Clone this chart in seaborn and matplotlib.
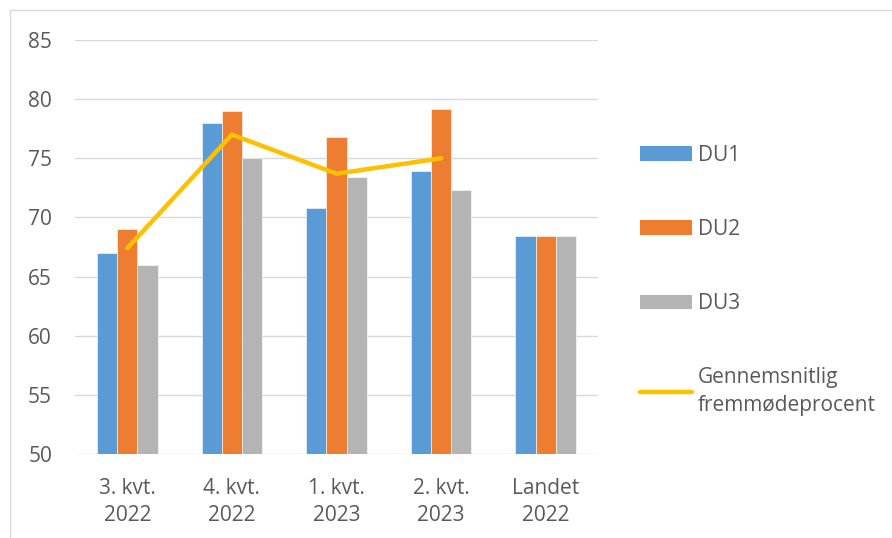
import matplotlib.pyplot as plt
import numpy as np
import pandas as pd
import seaborn as sns
from matplotlib.lines import Line2D
from matplotlib.patches import Patch

# Values
categories = ["3. kvt.\n2022", "4. kvt.\n2022", "1. kvt.\n2023", "2. kvt.\n2023", "Landet\n2022"]
series = ["DU1", "DU2", "DU3"]
du1 = [67.0, 78.0, 70.8, 73.9, 68.4]
du2 = [69.0, 79.0, 76.8, 79.2, 68.4]
du3 = [66.0, 75.0, 73.4, 72.3, 68.4]
avg_label = "Gennemsnitlig\nfremmødeprocent"
avg = [67.4, 77.0, 73.7, 75.0]
y_ticks = [50, 55, 60, 65, 70, 75, 80, 85]

colors = ["#5B9BD5", "#ED7D31", "#B4B4B4"]
line_color = "#FFC000"
text_color = "#595959"
grid_color = "#D9D9D9"
fs = 15

sns.set_theme(style="white")
plt.rcParams["font.family"] = ["Open Sans", "DejaVu Sans"]

df = pd.DataFrame(
    {
        "Kvartal": categories * len(series),
        "Afdeling": [s for s in series for _ in categories],
        "Procent": du1 + du2 + du3,
    }
)

W, H = 892, 538
fig = plt.figure(figsize=(W / 100, H / 100), dpi=100)
ax = fig.add_axes([75 / W, 1 - 454 / H, 523 / W, 414 / H])

sns.barplot(
    data=df,
    x="Kvartal",
    y="Procent",
    hue="Afdeling",
    palette=colors,
    width=0.58,
    saturation=1,
    edgecolor="white",
    linewidth=0.4,
    legend=False,
    ax=ax,
)
sns.lineplot(
    x=np.arange(len(avg)),
    y=avg,
    color=line_color,
    linewidth=3.2,
    solid_capstyle="round",
    solid_joinstyle="miter",
    ax=ax,
    zorder=5,
)

ax.set_ylim(50, 85)
ax.set_xlim(-0.5, len(categories) - 0.5)
ax.set_yticks(y_ticks)
ax.set_xticks(range(len(categories)))
ax.set_xticklabels(categories, linespacing=1.4)
ax.set_xlabel("")
ax.set_ylabel("")
ax.grid(axis="y", color=grid_color, linewidth=1.0)
ax.set_axisbelow(True)
for side in ["top", "right", "left", "bottom"]:
    ax.spines[side].set_visible(False)
ax.tick_params(axis="both", length=0, labelsize=fs, colors=text_color)
ax.tick_params(axis="y", pad=16.5)
ax.tick_params(axis="x", pad=17)

# Legend
handles = [Patch(facecolor=c, edgecolor="none") for c in colors]
handles.append(Line2D([0], [0], color=line_color, linewidth=3.2, solid_capstyle="round"))
labels = series + [avg_label]
leg = fig.legend(
    handles,
    labels,
    loc="upper left",
    bbox_to_anchor=(621 / W, 1 - 126 / H),
    frameon=False,
    fontsize=fs,
    labelcolor=text_color,
    handlelength=2.5,
    handleheight=0.67,
    handletextpad=0.3,
    labelspacing=2.55,
)
leg.get_texts()[-1].set_linespacing(1.4)

# Chart frame (cropped) on left and top
fig.add_artist(Line2D([10 / W, 10 / W], [0, 1 - 10 / H], color="#D9D9D9", linewidth=1, transform=fig.transFigure))
fig.add_artist(Line2D([10 / W, 1], [1 - 10 / H, 1 - 10 / H], color="#D9D9D9", linewidth=1, transform=fig.transFigure))

fig.savefig("out.png", dpi=100, facecolor="white")
